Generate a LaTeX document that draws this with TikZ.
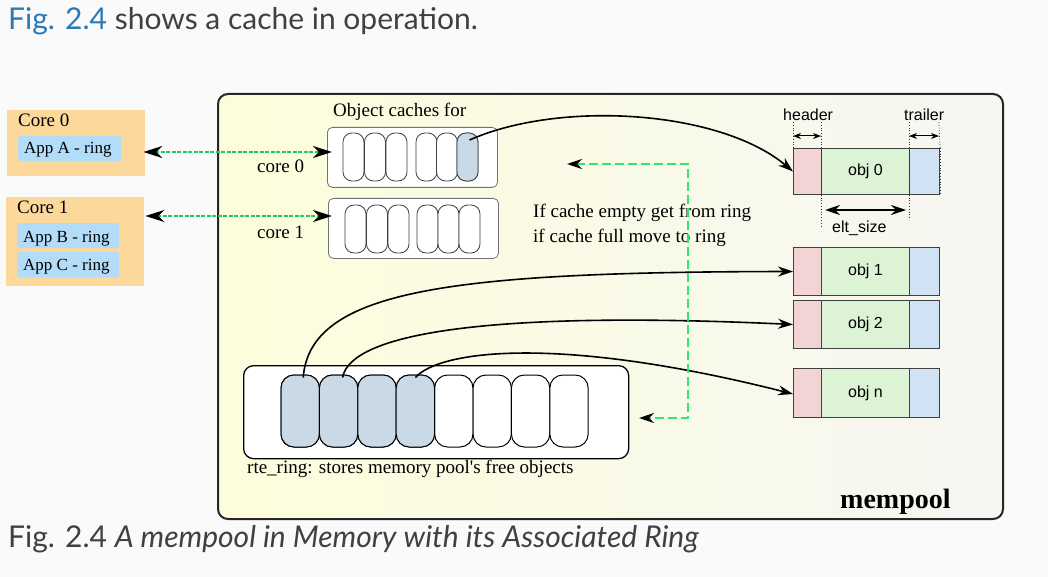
\documentclass[tikz,border=0pt]{standalone}
\usepackage{fontspec}
\setmainfont{Liberation Serif}
\newfontfamily\latofont{Lato}
\newfontfamily\lsans{Liberation Sans}
\usetikzlibrary{arrows.meta,calc}
\definecolor{pagebg}{HTML}{FAFAFA}
\definecolor{figblue}{HTML}{2A7AB8}
\definecolor{capgray}{HTML}{404040}
\definecolor{coreorange}{HTML}{FDD89B}
\definecolor{appblue}{HTML}{B3DCF8}
\definecolor{slotfill}{HTML}{C9D9E6}
\definecolor{hdrpink}{HTML}{F3D4D4}
\definecolor{objgreen}{HTML}{DCF4D5}
\definecolor{trlblue}{HTML}{D1E2F4}
\definecolor{dgreen}{HTML}{1FCB5A}
\definecolor{lgreen}{HTML}{2EE670}
\definecolor{mpleft}{HTML}{FDFDDC}
\definecolor{mpright}{HTML}{F6F6F3}
\tikzset{
  tip/.tip={Stealth[length=15pt,width=10pt,inset=5pt,black]},
  bigtip/.tip={Stealth[length=19pt,width=12pt,inset=6pt,black]},
  smalltip/.tip={Stealth[length=8pt,width=6pt,inset=2.5pt,black]},
  corebox/.style={fill=coreorange,draw=none,inner sep=0,anchor=north west},
  appbox/.style={fill=appblue,draw=none,rounded corners=2pt,inner sep=0,anchor=north west},
  stxt/.style={font=\fontsize{19}{22}\selectfont,inner sep=0,anchor=base west},
  apptxt/.style={font=\fontsize{17}{20}\selectfont,inner sep=0,anchor=base west},
  sanstxt/.style={font=\lsans\fontsize{16}{19}\selectfont,inner sep=0},
  cachebox/.style={draw=black!55,line width=0.8pt,fill=white,rounded corners=5pt,inner sep=0,anchor=north west},
  cslot/.style={draw=black!75,line width=0.8pt,fill=white,rounded corners=9pt,minimum width=21pt,minimum height=48pt,inner sep=0},
  rslot/.style={draw=black,line width=1pt,fill=white,rounded corners=13pt,minimum width=38.4pt,minimum height=72pt,inner sep=0},
  fullslot/.style={fill=slotfill},
  objpart/.style={draw=black!75,line width=1pt,inner sep=0,anchor=north west},
  coreline/.style={draw=dgreen,line width=2.2pt,dash pattern=on 4pt off 1.5pt},
  ringline/.style={draw=lgreen,line width=1.8pt,dash pattern=on 9pt off 4pt},
  curve/.style={draw=black,line width=1.6pt},
  dots/.style={draw=black!80,line width=0.8pt,dotted}
}
\begin{document}
\begin{tikzpicture}[x=1pt,y=-1pt]
\useasboundingbox (0,0) rectangle (1048,577);
\fill[pagebg] (0,0) rectangle (1048,577);

% captions
\node[anchor=base west,inner sep=0,font=\latofont\fontsize{30}{34}\selectfont,text=capgray] (topcap) at (8,30) {\textcolor{figblue}{Fig. 2.4} shows a cache in operation.};
\node[anchor=base west,inner sep=0,font=\latofont\fontsize{30}{34}\selectfont,text=capgray] (botcap) at (8,547) {Fig. 2.4 \textit{A mempool in Memory with its Associated Ring}};

% mempool box
\node[draw=black!85,line width=2pt,rounded corners=10pt,left color=mpleft,right color=mpright,minimum width=785pt,minimum height=425pt,inner sep=0,anchor=north west] (mp) at (217,93) {};
\node[anchor=base west,inner sep=0,font=\bfseries\fontsize{28}{32}\selectfont] (mptxt) at (840,508) {mempool};

% cores
\node[corebox,minimum width=138pt,minimum height=66pt] (core0) at (7,110) {};
\node[stxt] (core0t) at (18,127) {Core 0};
\node[appbox,minimum width=103pt,minimum height=25pt] (appA) at (18,136) {};
\node[apptxt] (appAt) at (24,154) {App A - ring};

\node[corebox,minimum width=138pt,minimum height=89pt] (core1) at (6,197) {};
\node[stxt] (core1t) at (17,214) {Core 1};
\node[appbox,minimum width=102pt,minimum height=25pt] (appB) at (17,223) {};
\node[apptxt] (appBt) at (23,242) {App B - ring};
\node[appbox,minimum width=102pt,minimum height=25pt] (appC) at (17,252) {};
\node[apptxt] (appCt) at (23,270) {App C - ring};

% caches
\node[stxt] (octxt) at (333,117) {Object caches for};
\node[cachebox,minimum width=170pt,minimum height=60pt] (cache0) at (327,127) {};
\node[cachebox,minimum width=170pt,minimum height=60pt] (cache1) at (328,198) {};
\node[stxt] (c0t) at (257,173) {core 0};
\node[stxt] (c1t) at (257,238) {core 1};
\foreach \i/\x in {1/353.5,2/375,3/396.5,4/426.5,5/447,6/467.5}{
  \node[cslot] (a\i) at (\x,157) {};
}
\node[cslot,fullslot] at (a6) {};
\foreach \i/\x in {1/355.5,2/377,3/398.5,4/427.5,5/448.5,6/469.5}{
  \node[cslot] (b\i) at (\x,229) {};
}

% core arrows
\draw[coreline,{bigtip}-{bigtip}] ($(core0.east |- 0,152)+(-2,0)$) -- ($(cache0.west |- 0,152)+(5,0)$);
\draw[coreline,{bigtip}-{bigtip}] ($(core1.east |- 0,216)+(1,0)$) -- ($(cache1.west |- 0,216)+(4,0)$);

% ring
\node[draw=black,line width=1.3pt,fill=white,rounded corners=10pt,minimum width=385pt,minimum height=93pt,inner sep=0,anchor=north west] (ring) at (243,365) {};
\foreach \i in {1,...,8}{
  \node[rslot] (r\i) at ({281+19.2+38.4*(\i-1)},411) {};
}
\foreach \i in {1,...,4}{ \node[rslot,fullslot] at (r\i) {}; }
\node[stxt] (ringt) at (247,473) {rte\_ring: stores memory pool\textquotesingle s free objects};

% objects
\foreach \n/\y/\h in {0/148/46,1/247/48,2/300/48,n/368/49}{
  \node[objpart,fill=hdrpink,minimum width=28pt,minimum height=\h pt] (h\n) at (793,\y) {};
  \node[objpart,fill=objgreen,minimum width=88pt,minimum height=\h pt] (o\n) at (821,\y) {};
  \node[objpart,fill=trlblue,minimum width=30pt,minimum height=\h pt] (t\n) at (909,\y) {};
  \node[sanstxt] at (o\n) {obj \n};
}

% dimension lines
\draw[dots] (h0.north west) -- (793,122);
\draw[dots] (821,122) -- (821,227);
\draw[dots] (909,122) -- (909,220);
\draw[dots] (t0.north east) -- (939,122);
\draw[dots] (t0.north east) -- (t0.south east);
\draw[line width=1pt,{smalltip}-{smalltip}] (793,136) -- (821,136);
\draw[line width=1pt,{smalltip}-{smalltip}] (909,136) -- (939,136);
\draw[line width=1.3pt,{tip}-{tip}] (825,210) -- (906,210);
\node[sanstxt,anchor=base west] (hdrt) at (783,121) {header};
\node[sanstxt,anchor=base west] (trlt) at (904,121) {trailer};
\node[sanstxt,anchor=base west] (eltt) at (832,233) {elt\_size};

% curves
\draw[curve,-{tip}] ([shift={(2pt,17pt)}]a6.center) .. controls (560,100) and (720,110) .. (h0.west);
\draw[curve,-{tip}] ([shift={(3pt,-3pt)}]r1.north) .. controls (310,290) and (450,272) .. (h1.west);
\draw[curve,-{tip}] ([shift={(4pt,-3pt)}]r2.north) .. controls (350,335) and (480,310) .. (h2.west);
\draw[curve,-{tip}] ([shift={(0pt,-3pt)}]r4.north) .. controls (440,350) and (560,335) .. ([yshift=-1pt]hn.west);

% cache/ring text and green path
\node[stxt] (ift1) at (533,218) {If cache empty get from ring};
\node[stxt] (ift2) at (533,242) {if cache full move to ring};
\coordinate (gtop) at (567,164);
\coordinate (gbot) at (639,418);
\draw[ringline,{tip}-{tip}] (gtop) -- (688,164) -- (688,418) -- (gbot);
\end{tikzpicture}
\end{document}
